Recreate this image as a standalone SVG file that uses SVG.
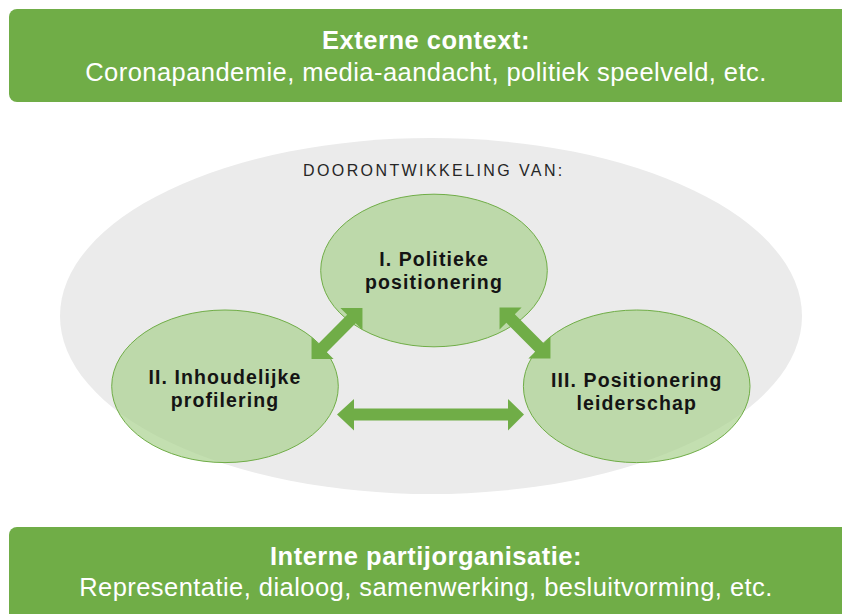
<svg xmlns="http://www.w3.org/2000/svg" width="842" height="614" viewBox="0 0 842 614">
  <style>
    .band { fill: #70ad47; }
    .bandTitle { font-family: "Liberation Sans", Arial, sans-serif; font-size: 25.5px; font-weight: bold; fill: #ffffff; letter-spacing: 0.5px; text-anchor: middle; }
    .bandText { font-family: "Liberation Sans", Arial, sans-serif; font-size: 25.5px; fill: #ffffff; letter-spacing: 0.45px; text-anchor: middle; }
    .node { fill: #a9d18e; fill-opacity: 0.7; stroke: #70ad47; stroke-width: 1; }
    .nodeText { font-family: "Liberation Sans", Arial, sans-serif; font-size: 19.5px; font-weight: bold; fill: #141414; letter-spacing: 1.1px; text-anchor: middle; }
    .arrow { fill: #70ad47; }
    .caption { font-family: "Liberation Sans", Arial, sans-serif; font-size: 16px; fill: #262626; letter-spacing: 2.4px; }
  </style>
  <defs>
    <polygon id="dbl72" points="-36,0 -20.4,-15.6 -20.4,-6 20.4,-6 20.4,-15.6 36,0 20.4,15.6 20.4,6 -20.4,6 -20.4,15.6"/>
  </defs>

  <g id="externe-context">
    <rect class="band" x="9" y="9" width="850" height="93" rx="8" ry="8"/>
    <text class="bandTitle" x="426" y="49">Externe context:</text>
    <text class="bandText" x="426" y="81">Coronapandemie, media-aandacht, politiek speelveld, etc.</text>
  </g>

  <g id="doorontwikkeling">
    <ellipse cx="431" cy="316" rx="371" ry="178" fill="#ebebeb"/>
    <text class="caption" x="303" y="176">DOORONTWIKKELING VAN:</text>
  </g>

  <g id="politieke-positionering">
    <ellipse class="node" cx="434" cy="270.5" rx="113.3" ry="76.3"/>
    <text class="nodeText" x="434" y="266">I. Politieke</text>
    <text class="nodeText" x="434" y="289">positionering</text>
  </g>

  <g id="inhoudelijke-profilering">
    <ellipse class="node" cx="225" cy="386.3" rx="113.3" ry="76.3"/>
    <text class="nodeText" x="225" y="384">II. Inhoudelijke</text>
    <text class="nodeText" x="225" y="407">profilering</text>
  </g>

  <g id="positionering-leiderschap">
    <ellipse class="node" cx="636.7" cy="386.3" rx="113.3" ry="76.3"/>
    <text class="nodeText" x="636.7" y="387" fill="#262626">III. Positionering</text>
    <text class="nodeText" x="636.7" y="410" fill="#262626">leiderschap</text>
  </g>

  <g id="connectors">
    <use href="#dbl72" class="arrow" transform="translate(337,333.5) rotate(-45)"/>
    <use href="#dbl72" class="arrow" transform="translate(525,333) rotate(45)"/>
    <polygon class="arrow" points="337,414.5 354,399 354,408.5 508,408.5 508,399 524,414.5 508,430.5 508,420.5 354,420.5 354,430.5"/>
  </g>

  <g id="interne-partijorganisatie">
    <rect class="band" x="9" y="527" width="850" height="100" rx="8" ry="8"/>
    <text class="bandTitle" x="426" y="565">Interne partijorganisatie:</text>
    <text class="bandText" x="426" y="596">Representatie, dialoog, samenwerking, besluitvorming, etc.</text>
  </g>
</svg>
